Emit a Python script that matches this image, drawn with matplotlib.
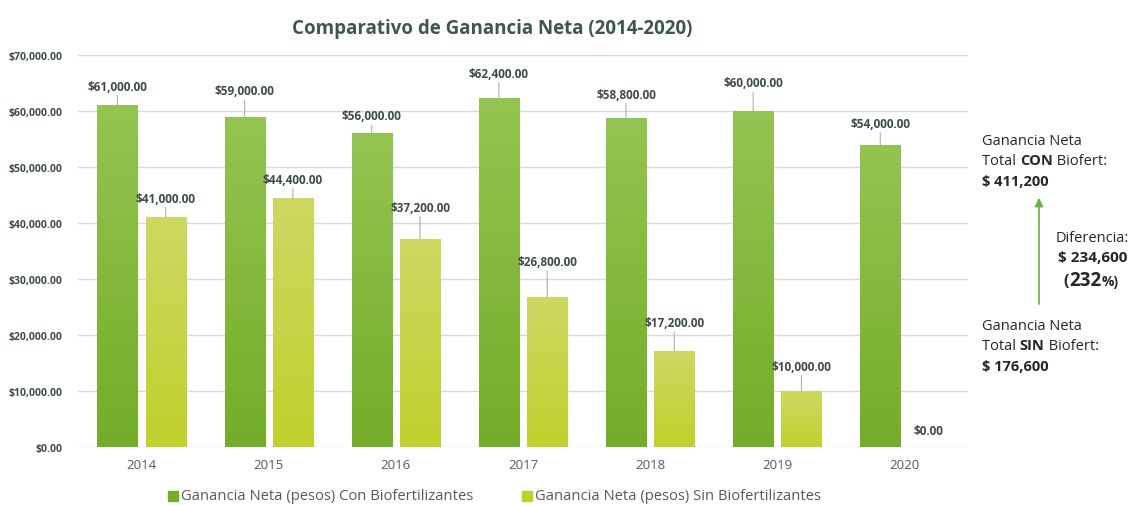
import numpy as np
import matplotlib
matplotlib.use("Agg")
import matplotlib.pyplot as plt
from matplotlib.colors import LinearSegmentedColormap
from matplotlib.ticker import FuncFormatter

plt.rcParams['font.family'] = ['Open Sans', 'DejaVu Sans']

years = ["2014", "2015", "2016", "2017", "2018", "2019", "2020"]
con_bio = [61000, 59000, 56000, 62400, 58800, 60000, 54000]
sin_bio = [41000, 44400, 37200, 26800, 17200, 10000, 0]
series_names = ["Ganancia Neta (pesos) Con Biofertilizantes",
                "Ganancia Neta (pesos) Sin Biofertilizantes"]
total_con = "$ 411,200"
total_sin = "$ 176,600"
diferencia = "$ 234,600"
porcentaje = "232"

# label offsets above each bar (points)
con_offsets = [9, 14, 8, 12.5, 12, 15.5, 10.5]
sin_offsets = [9, 9, 18, 21, 15.5, 13, 7]

green_top, green_bot = "#94C451", "#74AD29"
yel_top, yel_bot = "#CDD862", "#BFD12C"
label_col = "#3F4B4B"
title_col = "#3E564E"

W, H = 1131, 506
fig = plt.figure(figsize=(W / 100, H / 100), dpi=100)
ax = fig.add_axes([78 / W, 1 - 448 / H, (968 - 78) / W, (448 - 56) / H])

x = np.arange(len(years))
bw = 0.315
off = 0.19


def gradient_bars(xpos, vals, ctop, cbot):
    cmap = LinearSegmentedColormap.from_list("g", [cbot, ctop])
    grad = np.linspace(0, 1, 256).reshape(-1, 1)
    bars = ax.bar(xpos, vals, width=bw, color=ctop, edgecolor="none", zorder=2)
    for b in bars:
        h = b.get_height()
        if h <= 0:
            continue
        b.set_facecolor("none")
        im = ax.imshow(grad, cmap=cmap, aspect="auto", origin="lower",
                       extent=[b.get_x(), b.get_x() + b.get_width(), 0, h],
                       zorder=2, interpolation="bicubic")
        im.set_clip_path(b)
    return bars


b1 = gradient_bars(x - off, con_bio, green_top, green_bot)
b2 = gradient_bars(x + off, sin_bio, yel_top, yel_bot)

ax.set_xlim(-0.5, 6.5)
ax.set_ylim(0, 70000)
ax.set_yticks(np.arange(0, 70001, 10000))
ax.yaxis.set_major_formatter(FuncFormatter(lambda v, p: f"${v:,.2f}"))
ax.set_xticks(x)
ax.set_xticklabels(years)
ax.grid(axis="y", color="#D9D9D9", linewidth=1, zorder=0)
ax.set_axisbelow(True)
for s in ax.spines.values():
    s.set_visible(False)
ax.tick_params(axis="both", length=0)
ax.tick_params(axis="y", labelsize=7.5, labelcolor=label_col, pad=11)
for t in ax.get_yticklabels():
    t.set_fontweight("bold")
ax.tick_params(axis="x", labelsize=9.5, labelcolor="#595959", pad=8)


def value_labels(xpos, vals, offsets):
    for xi, v, o in zip(xpos, vals, offsets):
        if v == 0:
            ax.annotate(f"${v:,.2f}", (xi, v), xytext=(0, o),
                        textcoords="offset points", ha="center", va="bottom",
                        fontsize=8.5, fontweight="bold", color=label_col)
            continue
        ax.annotate(f"${v:,.2f}", (xi, v), xytext=(0, o),
                    textcoords="offset points", ha="center", va="bottom",
                    fontsize=8.5, fontweight="bold", color=label_col,
                    arrowprops=dict(arrowstyle="-", color="#B0B0B0", lw=0.8,
                                    shrinkA=0, shrinkB=0))


value_labels(x - off, con_bio, con_offsets)
value_labels(x + off, sin_bio, sin_offsets)

fig.text(492 / W, 1 - 29 / H, "Comparativo de Ganancia Neta (2014-2020)",
         ha="center", va="center", fontsize=13.5, fontweight="bold", color=title_col)

# legend
legend_y = 1 - 497 / H
for mx, col, name in [(168, green_bot, series_names[0]), (522, yel_bot, series_names[1])]:
    fig.patches.append(plt.Rectangle((mx / W, legend_y - 5 / H), 10 / W, 10 / H,
                                     transform=fig.transFigure, color=col, figure=fig))
    fig.text((mx + 13) / W, legend_y, name, ha="left", va="center",
             fontsize=10.6, color="#595959")

# side annotations drawn as consecutive text runs (baseline aligned)
fig.canvas.draw()
renderer = fig.canvas.get_renderer()


def runs(x0, y0, parts, size=10.5, color="#262626"):
    xp = x0
    for txt, weight, sz in parts:
        t = fig.text(xp / W, 1 - y0 / H, txt, ha="left", va="baseline",
                     fontsize=sz or size, fontweight=weight, color=color)
        bb = t.get_window_extent(renderer)
        xp += bb.width


def run_width(parts, size=10.5):
    tmp = [fig.text(0, 0, p, fontsize=s or size, fontweight=w) for p, w, s in parts]
    total = sum(t.get_window_extent(renderer).width for t in tmp)
    for t in tmp:
        t.remove()
    return total


side_x = 982
runs(side_x, 145, [("Ganancia Neta", "normal", None)])
runs(side_x, 165, [("Total ", "normal", None), ("CON", "bold", None), (" Biofert:", "normal", None)])
runs(side_x, 186, [(total_con, "bold", None)])
runs(side_x, 330, [("Ganancia Neta", "normal", None)])
runs(side_x, 350, [("Total ", "normal", None), ("SIN", "bold", None), (" Biofert:", "normal", None)])
runs(side_x, 371, [(total_sin, "bold", None)])

fig.text(1129 / W, 1 - 242 / H, "Diferencia:", ha="right", va="baseline",
         fontsize=10.5, color="#262626")
fig.text(1127 / W, 1 - 262 / H, diferencia, ha="right", va="baseline",
         fontsize=11, fontweight="bold", color="#262626")

# "(232%)" with a larger number
parts = [("(", "bold", 11.5), (porcentaje, "bold", 13.5), ("%)", "bold", 10)]
runs(1091 - run_width(parts) / 2, 286, parts)

fig.patches.append(matplotlib.patches.FancyArrowPatch(
    (1039 / W, 1 - 308 / H), (1039 / W, 1 - 196 / H), transform=fig.transFigure,
    arrowstyle="-|>,head_length=5,head_width=2.5", color="#70AD47", lw=1.2,
    mutation_scale=1, figure=fig))

fig.savefig("out.png", dpi=100, facecolor="white")
